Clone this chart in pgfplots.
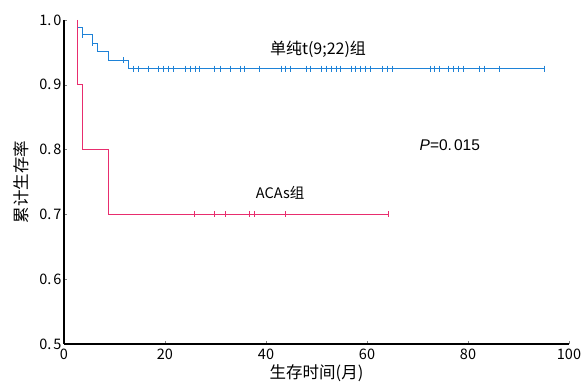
\documentclass[border=0pt]{standalone}
\usepackage{fontspec}
\setmainfont{Noto Sans CJK SC}
\newfontfamily\lib{Liberation Sans}
\usepackage{pgfplots}
\pgfplotsset{compat=1.18}
\definecolor{kmblue}{RGB}{30,130,215}
\definecolor{kmred}{RGB}{232,45,110}
\begin{document}
\begin{tikzpicture}
\begin{axis}[name=ax,
  scale only axis, width=505pt, height=324pt,
  xmin=0, xmax=100, ymin=0.5, ymax=1.0,
  axis lines=left, axis line style={line width=1.6pt, -},
  xtick={0,20,40,60,80,100},
  ytick={0.5,0.6,0.7,0.8,0.9,1.0},
  yticklabels={0.\hspace{2pt}5,0.\hspace{2pt}6,0.\hspace{2pt}7,0.\hspace{2pt}8,0.\hspace{2pt}9,1.\hspace{2pt}0},
  tick align=inside, major tick length=3pt,
  tick style={gray, thin},
  /pgf/number format/assume math mode=true,
  tick label style={font=\fontsize{14.5}{15}\selectfont},
  xticklabel style={yshift=-1pt},
  yticklabel style={xshift=1pt},
  xlabel={生存时间(月)}, ylabel={累计生存率},
  label style={font=\fontsize{16.5}{17}\selectfont},
  xlabel style={yshift=1pt},
  ylabel style={yshift=4pt},
  clip=false,
]
% Blue group: KM step curve
\addplot[kmblue, line width=1.1pt, const plot, no marks] coordinates {
  (2.7,0.989) (3.7,0.977) (5.7,0.964) (6.7,0.951) (8.9,0.938) (12.8,0.925) (95.2,0.925)
};
\addplot[kmblue, only marks, mark=|, mark size=3pt, mark options={line width=1pt}] coordinates {
  (3.6,0.977) (5.6,0.964) (11.7,0.938)
  (13.7,0.925) (14.7,0.925) (16.7,0.925) (18.7,0.925) (19.7,0.925) (20.7,0.925) (21.7,0.925)
  (24.0,0.925) (25.0,0.925) (26.0,0.925) (26.9,0.925) (29.9,0.925) (30.9,0.925) (32.9,0.925)
  (34.9,0.925) (35.8,0.925) (38.8,0.925) (43.1,0.925) (43.9,0.925) (44.9,0.925) (48.1,0.925)
  (48.9,0.925) (51.0,0.925) (51.9,0.925) (52.9,0.925) (53.9,0.925) (54.8,0.925) (57.0,0.925)
  (57.8,0.925) (58.8,0.925) (59.8,0.925) (60.7,0.925) (63.1,0.925) (64.0,0.925) (65.1,0.925)
  (72.5,0.925) (73.3,0.925) (74.3,0.925) (76.2,0.925) (77.2,0.925) (78.2,0.925) (79.2,0.925)
  (82.2,0.925) (83.2,0.925) (86.2,0.925) (95.2,0.925)
};
% Red group
\addplot[kmred, line width=1.1pt, const plot, no marks] coordinates {
  (2.7,1.0) (2.7,0.9) (3.6,0.8) (8.8,0.7) (64.2,0.7)
};
\addplot[kmred, only marks, mark=|, mark size=3pt, mark options={line width=1pt}] coordinates {
  (25.8,0.7) (29.9,0.7) (31.9,0.7) (36.8,0.7) (37.8,0.7) (43.9,0.7) (64.2,0.7)
};
\node[font=\fontsize{16}{17}\selectfont] at (axis cs:50.3,0.954) {单纯t(9;22)组};
\node[font=\fontsize{14.5}{15}\selectfont] at (axis cs:42.8,0.733) {ACAs组};
\node[font=\lib\fontsize{15.5}{16}\selectfont] at (axis cs:76.4,0.807) {\textit{P}=0.\hspace{2pt}015};
\end{axis}
\pgfresetboundingbox
\path ([shift={(-64pt,-38pt)}]ax.south west) rectangle ([shift={(15pt,20pt)}]ax.north east);
\end{tikzpicture}
\end{document}
